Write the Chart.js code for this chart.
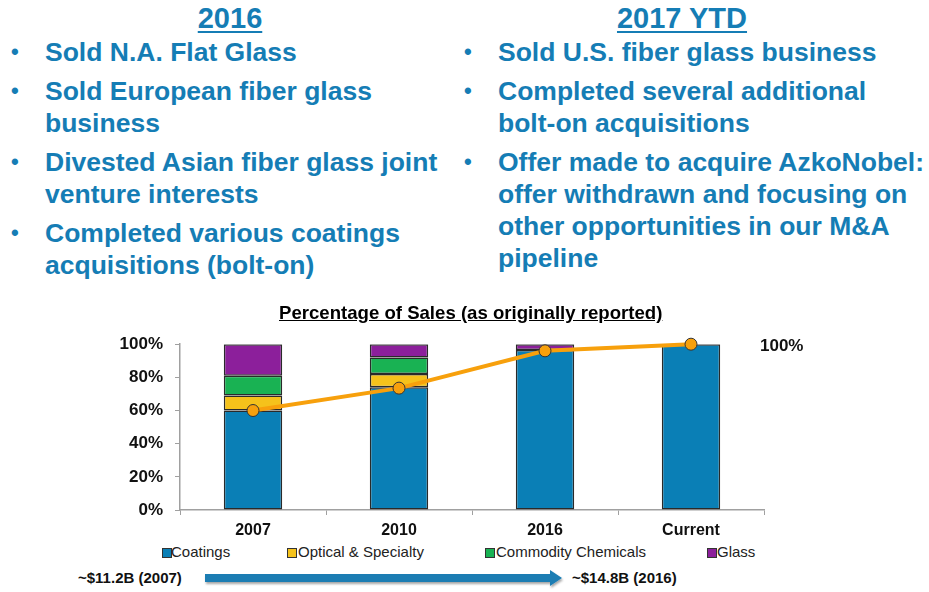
<!DOCTYPE html>
<html>
<head>
<meta charset="utf-8">
<script src="https://cdn.jsdelivr.net/npm/chart.js@4/dist/chart.umd.min.js"></script>
<style>
  html, body { margin: 0; padding: 0; background: #fff; }
  body { width: 929px; height: 592px; position: relative; overflow: hidden; font-family: "Liberation Sans", Arial, sans-serif; }
  .t { position: absolute; white-space: nowrap; color: #157db5; font-weight: bold; font-size: 26.5px; line-height: 32px; }
  .h { position: absolute; white-space: nowrap; color: #157db5; font-weight: bold; font-size: 29px; line-height: 32px; text-decoration: underline; text-decoration-thickness: 2px; text-underline-offset: 3px; transform: translateX(-50%); }
  .b { position: absolute; color: #157db5; font-size: 22px; line-height: 32px; font-weight: bold; }
  #chartTitle { position: absolute; left: 279px; top: 302px; font-weight: bold; font-size: 18.6px; line-height: 22px; text-decoration: underline; white-space: nowrap; color: #000; }
  #ann { position: absolute; left: 760px; top: 336px; font-weight: bold; font-size: 17px; line-height: 20px; color: #111; }
  .lg { position: absolute; top: 543px; font-family: "Liberation Sans Narrow", "Arial Narrow", sans-serif; font-size: 15px; line-height: 18px; color: #222; white-space: nowrap; }
  .sw { position: absolute; width: 8px; height: 8px; border: 1px solid #333; top: 548px; }
  .bt { position: absolute; top: 569px; font-family: "Liberation Sans Narrow", "Arial Narrow", sans-serif; font-weight: bold; font-size: 15px; line-height: 18px; color: #111; white-space: nowrap; }
  #chartWrap { position: absolute; left: 0; top: 322px; width: 929px; height: 218px; }
</style>
</head>
<body>
<div class="h" style="left:230px; top:2px;">2016</div>
<div class="h" style="left:682px; top:2px;">2017 YTD</div>

<div id="left"></div>
<div id="right"></div>

<div id="chartWrap"><canvas id="c" width="929" height="218"></canvas></div>
<div id="chartTitle">Percentage of Sales (as originally reported)</div>
<div id="ann">100%</div>

<div id="legend"></div>

<div class="bt" style="left:78px;">~$11.2B (2007)</div>
<svg style="position:absolute; left:200px; top:568px;" width="370" height="22">
  <defs>
    <filter id="sh" x="-5%" y="-50%" width="110%" height="200%">
      <feDropShadow dx="1" dy="2" stdDeviation="1" flood-color="#000" flood-opacity="0.35"/>
    </filter>
  </defs>
  <path d="M5,6 L350,6 L350,2 L362,10 L350,18 L350,14 L5,14 Z" fill="#1b7db3" filter="url(#sh)"/>
</svg>
<div class="bt" style="left:572px;">~$14.8B (2016)</div>

<script>
// ---- data ----
const categories = ["2007", "2010", "2016", "Current"];
const coatings   = [60, 74, 96.5, 100];
const optical    = [9, 8, 0, 0];
const commodity  = [12, 10, 0, 0];
const glass      = [19, 8, 3.5, 0];
const coatingsLine = [60, 73.5, 96, 100];
const yTicks = [0, 20, 40, 60, 80, 100];
const seriesNames = ["Coatings", "Optical & Specialty", "Commodity Chemicals", "Glass"];
const leftBullets = [
  ["Sold N.A. Flat Glass"],
  ["Sold European fiber glass", "business"],
  ["Divested Asian fiber glass joint", "venture interests"],
  ["Completed various coatings", "acquisitions (bolt-on)"]
];
const rightBullets = [
  ["Sold U.S. fiber glass business"],
  ["Completed several additional", "bolt-on acquisitions"],
  ["Offer made to acquire AzkoNobel:", "offer withdrawn and focusing on", "other opportunities in our M&A", "pipeline"]
];

// ---- bullets ----
function renderBullets(list, bulletX, textX) {
  let y = 36;
  let html = "";
  list.forEach(lines => {
    html += `<div class="b" style="left:${bulletX}px; top:${y}px;">•</div>`;
    lines.forEach(l => {
      html += `<div class="t" style="left:${textX}px; top:${y}px;">${l.replace(/&/g,'&amp;')}</div>`;
      y += 32;
    });
    y += 7;
  });
  return html;
}
document.getElementById('left').innerHTML = renderBullets(leftBullets, 11, 45);
document.getElementById('right').innerHTML = renderBullets(rightBullets, 464, 498);

// ---- legend ----
const colors = ["#0a7fb6", "#f5c21b", "#19b253", "#8c1f9b"];
const legendPos = [[162, 171], [287, 298], [485, 496], [707, 717]];
let lh = "";
seriesNames.forEach((n, i) => {
  lh += `<div class="sw" style="left:${legendPos[i][0]}px; background:${colors[i]};"></div>`;
  lh += `<div class="lg" style="left:${legendPos[i][1]}px;">${n.replace(/&/g,'&amp;')}</div>`;
});
document.getElementById('legend').innerHTML = lh;

// ---- chart ----
const barCommon = { borderColor: "#2a2a2a", borderWidth: 1.5, borderSkipped: false, stack: "s", order: 1, barPercentage: 0.8, categoryPercentage: 0.5 };
new Chart(document.getElementById('c'), {
  data: {
    labels: categories,
    datasets: [
      { type: "line", label: "Coatings share", data: coatingsLine, borderColor: "#f7a00c", borderWidth: 4,
        pointRadius: 6, pointBackgroundColor: "#f7a00c", pointBorderColor: "#333", pointBorderWidth: 1,
        tension: 0, order: 0, clip: false },
      Object.assign({ type: "bar", label: seriesNames[0], data: coatings, backgroundColor: colors[0] }, barCommon),
      Object.assign({ type: "bar", label: seriesNames[1], data: optical, backgroundColor: colors[1] }, barCommon),
      Object.assign({ type: "bar", label: seriesNames[2], data: commodity, backgroundColor: colors[2] }, barCommon),
      Object.assign({ type: "bar", label: seriesNames[3], data: glass, backgroundColor: colors[3] }, barCommon)
    ]
  },
  options: {
    responsive: false,
    animation: false,
    layout: { padding: { left: 0, right: 165, top: 0, bottom: 0 } },
    plugins: { legend: { display: false }, tooltip: { enabled: false }, title: { display: false } },
    scales: {
      x: {
        stacked: true,
        grid: { offset: true, drawOnChartArea: false, drawTicks: true, tickLength: 5, color: "#a0a0a0" },
        border: { color: "#a0a0a0", width: 1.5 },
        ticks: { color: "#111", font: { family: "Liberation Sans", weight: "bold", size: 16 }, padding: 6 },
        afterFit: s => { s.height = 30; }
      },
      y: {
        stacked: true,
        min: 0, max: 100,
        afterBuildTicks: s => { s.ticks = yTicks.map(v => ({ value: v })); },
        grid: { drawOnChartArea: false, drawTicks: true, tickLength: 5, color: "#a0a0a0" },
        border: { color: "#a0a0a0", width: 1.5 },
        ticks: { color: "#111", font: { family: "Liberation Sans", weight: "bold", size: 17 }, padding: 12,
                 callback: v => v + "%" },
        afterFit: s => { s.width = 180; }
      }
    }
  }
});
</script>
</body>
</html>
